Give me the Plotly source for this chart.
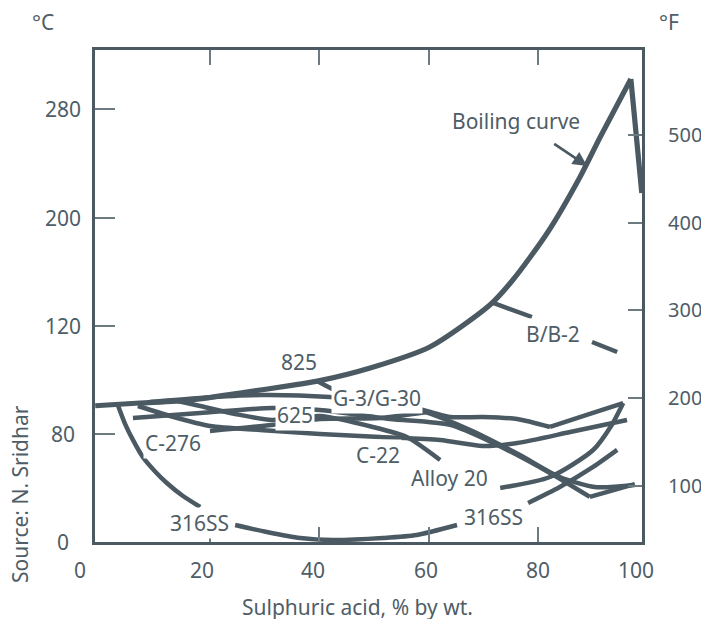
import plotly.graph_objects as go

# ---- data (x: sulphuric acid % by wt., y: temperature on the °F scale) ----
boil_x = [-1.0, 7.2, 16.3, 25.5, 34.6, 40.1, 49.3, 60.2, 71.2, 75.4, 81.7, 87.7, 91.4, 97.0, 99.0]
boil_f = [191.2, 194.3, 197.7, 205.7, 214.1, 219.8, 234.2, 258.2, 306.1, 334.6, 388.2, 452.1, 497.7, 563.8, 433.8]

bb2_x = [71.8, 78.9, None, 89.9, 94.5]
bb2_f = [308.4, 292.4, None, 263.9, 252.5]

g3_x = [9.0, 18.2, 29.1, 41.9, 54.8, 63.9, 69.9, 76.2, 82.2, 89.5, 95.6]
g3_f = [195.5, 200.0, 203.4, 201.2, 193.2, 178.4, 178.4, 176.1, 167.0, 181.8, 194.3]

a625_x = [5.9, 18.2, 31.3, 40.1, 52.9, 63.9, 71.8, 82.2, 89.5, 97.7]
a625_f = [177.2, 182.9, 188.6, 186.3, 176.1, 169.3, 148.7, 114.5, 87.2, 101.9]

a825_x = [39.6, 42.9, 49.3, 58.4, 67.6, 76.7, 84.0, 90.4, 97.7]
a825_f = [219.4, 209.1, 200.0, 186.3, 163.6, 135.0, 109.9, 98.5, 100.8]

c276_x = [6.8, 12.7, 20.0, 29.1, 40.1, 51.1, 62.1, 69.9, 76.2, 85.9, 96.3]
c276_f = [190.9, 179.5, 168.1, 163.6, 159.0, 155.5, 152.1, 145.3, 148.7, 161.2, 175.0]

c22_x = [20.0, 31.3, 40.1, 51.1, 59.7]
c22_f = [162.4, 169.3, 176.1, 177.2, 184.1]

a20_x = [14.1, 18.2, 24.6, 31.3, 40.1, 49.8, 56.0, 62.1, None, 73.1, 82.2, 90.1, 93.5, 95.6]
a20_f = [196.6, 190.9, 181.8, 175.0, 179.5, 167.0, 155.5, 129.3, None, 97.4, 109.9, 140.7, 169.3, 194.3]

ss316_x = [3.2, 4.5, 5.9, 7.7, 10.0, 12.1, 15.0, 18.2, None, 24.6, 30.4, 36.5, 42.5, 51.6, 57.8, 65.2, None, 78.2, 84.0, 90.1, 94.5]
ss316_f = [191.0, 170.0, 152.2, 132.8, 116.0, 103.1, 88.5, 75.7, None, 55.2, 47.2, 40.4, 38.1, 40.4, 43.8, 55.2, None, 80.3, 98.5, 121.4, 140.8]

label_text = ["825", "G-3/G-30", "625", "C-276", "C-22", "Alloy 20", "316SS", "316SS", "B/B-2", "Boiling curve"]
label_x = [36.3, 50.6, 35.5, 13.2, 50.7, 63.9, 18.1, 71.8, 82.8, 76.0]
label_f = [241.1, 200.0, 180.6, 148.7, 135.0, 108.8, 57.5, 64.3, 273.0, 515.9]

x_tick_text = ["0", "20", "40", "60", "80", "100"]
x_tick_marks = [20, 40, 60, 80]
c_tick_text = ["0", "80", "120", "200", "280"]
c_tick_f = [36.0, 158.6, 282.1, 405.7, 529.6]
f_tick_vals = [100, 200, 300, 400, 500]

# ---- style ----
INK = "#4a5962"
TXT = "#4e5d66"
TICK = "#6c7a82"
FONT = "Noto Sans"
FS = 21
XR = [-1.04, 99.04]
YR = [35.8, 596.9]

fig = go.Figure()


def add_curve(xs, ys, width=4.5, corner=None, yaxis="y"):
    parts = [(xs, ys)] if corner is None else [(xs[:corner + 1], ys[:corner + 1]), (xs[corner:], ys[corner:])]
    for px, py in parts:
        fig.add_trace(go.Scatter(
            x=px, y=py, mode="lines", yaxis=yaxis,
            line=dict(color=INK, width=width, shape="spline", smoothing=0.7),
            showlegend=False, hoverinfo="skip", connectgaps=False))


add_curve(ss316_x, ss316_f)
add_curve(c276_x, c276_f)
add_curve(c22_x, c22_f)
add_curve(a20_x, a20_f)
add_curve(a825_x, a825_f)
add_curve(a625_x, a625_f, corner=8)
add_curve(g3_x, g3_f, corner=8)
add_curve(bb2_x, bb2_f, yaxis="y2")
add_curve(boil_x, boil_f, width=5.2, corner=13)


def txt(x, y, t, xref, yref, **kw):
    d = dict(x=x, y=y, xref=xref, yref=yref, text=t, showarrow=False,
             xanchor="center", yanchor="middle",
             font=dict(family=FONT, size=FS, color=TXT))
    d.update(kw)
    return d


annotations = []
for t, x, y in zip(label_text, label_x, label_f):
    annotations.append(txt(x, y, t, "x", "y", bgcolor="white", borderpad=1))

# arrow to boiling curve
annotations.append(dict(x=89.0, y=464.6, ax=82.7, ay=490.9, xref="x", yref="y",
                        axref="x", ayref="y", text="", showarrow=True,
                        arrowhead=2, arrowsize=1.1, arrowwidth=2.6, arrowcolor=INK))

# x tick labels (as drawn in the reference)
x_label_pos = [-0.0274, 0.1956, 0.3985, 0.6051, 0.8099, 0.9890]
for t, xp in zip(x_tick_text, x_label_pos):
    annotations.append(txt(xp, -0.057, t, "paper", "paper"))

# left °C tick labels
for t, yv in zip(c_tick_text, c_tick_f):
    annotations.append(txt(-0.0585, yv, t, "paper", "y"))

annotations += [
    txt(-0.095, 1.057, "°C", "paper", "paper"),
    txt(1.05, 1.057, "°F", "paper", "paper"),
    txt(-0.137, 0.0976, "Source: N. Sridhar", "paper", "paper", textangle=-90),
    txt(0.479, -0.133, "Sulphuric acid, % by wt.", "paper", "paper"),
]

# page body has an 8px margin: keep the figure inside the 709x627 window (no scrollbars)
fig.update_layout(
    width=693, height=611,
    margin=dict(l=87, r=59, t=42, b=77, autoexpand=False),
    paper_bgcolor="white", plot_bgcolor="white",
    showlegend=False,
    annotations=annotations,
    xaxis=dict(range=XR, showgrid=False, zeroline=False, showline=True, linewidth=3,
               linecolor=INK, mirror="ticks", ticks="inside", ticklen=15, tickwidth=1.5,
               tickcolor=TICK, tickvals=x_tick_marks, showticklabels=False,
               automargin=False, fixedrange=True),
    yaxis=dict(range=YR, showgrid=False, zeroline=False, showline=True, linewidth=3,
               linecolor=INK, ticks="inside", ticklen=20, tickwidth=1.5, tickcolor=TICK,
               tickvals=c_tick_f, showticklabels=False, automargin=False, fixedrange=True),
    yaxis2=dict(range=YR, overlaying="y", side="right", showgrid=False, zeroline=False,
                showline=True, linewidth=3, linecolor=INK, ticks="inside", ticklen=14,
                tickwidth=1.5, tickcolor=TICK, tickvals=f_tick_vals,
                ticklabelstandoff=19, automargin=False,
                tickfont=dict(family=FONT, size=20, color=TXT), fixedrange=True),
)

fig.write_html("out.html")
